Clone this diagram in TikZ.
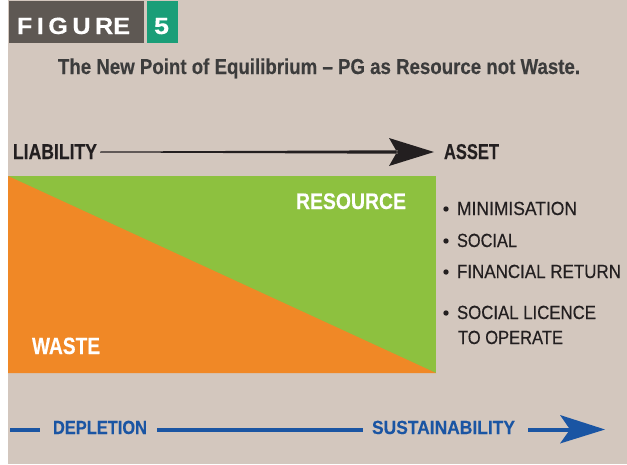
\documentclass[tikz,border=0pt]{standalone}
\usepackage{fontspec}
\usepackage{graphicx}
\setmainfont{Liberation Sans}[BoldFeatures={FakeBold=0.3}]
\setsansfont{Liberation Sans}
\newfontfamily\medfont{Liberation Sans}[FakeBold=0.5]
\newcommand\fitw[2]{\resizebox{#1}{\height}{#2}}
\definecolor{bgbeige}{RGB}{211,199,190}
\definecolor{figdark}{RGB}{94,88,83}
\definecolor{figteal}{RGB}{26,158,120}
\definecolor{resgreen}{RGB}{141,193,63}
\definecolor{wasteorange}{RGB}{240,136,38}
\definecolor{axisblue}{RGB}{26,85,163}
\definecolor{titlegray}{RGB}{60,60,60}
\definecolor{inkblack}{RGB}{35,31,32}
\tikzset{
  txt/.style={inner sep=0pt, outer sep=0pt, anchor=base west},
  bullettxt/.style={txt, text=inkblack, font=\medfont\fontsize{19}{19}\selectfont},
  bluetxt/.style={txt, text=axisblue, font=\bfseries\fontsize{19}{19}\selectfont},
  blueline/.style={draw=axisblue, line width=4pt},
  bulletdot/.style={circle, fill=inkblack, inner sep=0pt, minimum size=5.4pt}
}
\begin{document}
\begin{tikzpicture}[x=1pt,y=-1pt]
\useasboundingbox (0,0) rectangle (627,464);
\fill[white] (0,0) rectangle (627,464);
\fill[bgbeige] (8,0) rectangle (627,464);
% figure label
\fill[figdark] (9,1) rectangle (144,43);
\fill[figteal] (147,1) rectangle (178,43);
\node[txt, text=white, font=\bfseries\fontsize{23.5}{23.5}\selectfont] (fig) at (17,34) {\fitw{113pt}{{\addfontfeatures{LetterSpace=18}FIGUR}E}};
\node[txt, text=white, font=\bfseries\fontsize{23.5}{23.5}\selectfont] (num) at (154,34) {\fitw{15pt}{5}};
% title
\node[txt, text=titlegray, font=\bfseries\fontsize{21.6}{21.6}\selectfont] (title) at (58,74) {\fitw{522pt}{The New Point of Equilibrium -- PG as Resource not Waste.}};
% top axis
\node[txt, text=inkblack, font=\bfseries\fontsize{21.5}{21.5}\selectfont] (liab) at (13,159) {\fitw{84pt}{LIABILITY}};
\node[txt, text=inkblack, font=\bfseries\fontsize{21.5}{21.5}\selectfont] (asset) at (444,159) {\fitw{55pt}{ASSET}};
\coordinate (ts) at (100,152);
\coordinate (tn) at (398,152);
\coordinate (tt) at (434,152);
\fill[inkblack] ([yshift=-0.5pt]ts) -- ([yshift=-1.7pt]tn) -- (389,138) -- (tt) -- (389,166) -- ([yshift=1.7pt]tn) -- ([yshift=0.5pt]ts) -- cycle;
% main block
\fill[resgreen] (8,176) rectangle (436,373);
\fill[wasteorange] (8,176) -- (436,373) -- (8,373) -- cycle;
\node[txt, text=white, font=\bfseries\fontsize{22.5}{22.5}\selectfont] (res) at (296,209) {\fitw{110pt}{RESOURCE}};
\node[txt, text=white, font=\bfseries\fontsize{23.5}{23.5}\selectfont] (waste) at (32,354) {\fitw{68pt}{WASTE}};
% bullets
\node[bulletdot] (d1) at (446,209) {};
\node[bullettxt] (b1) at (457,215) {\fitw{120pt}{MINIMISATION}};
\node[bulletdot] (d2) at (446,241) {};
\node[bullettxt] (b2) at (457,247) {\fitw{60pt}{SOCIAL}};
\node[bulletdot] (d3) at (446,272) {};
\node[bullettxt] (b3) at (457,278) {\fitw{164pt}{FINANCIAL RETURN}};
\node[bulletdot] (d4) at (446,313) {};
\node[bullettxt] (b4) at (457,319) {\fitw{139pt}{SOCIAL LICENCE}};
\node[bullettxt] (b5) at (458,344) {\fitw{105pt}{TO OPERATE}};
% bottom axis
\node[bluetxt] (dep) at (53,434) {\fitw{94pt}{DEPLETION}};
\node[bluetxt] (sus) at (372,434) {\fitw{143pt}{SUSTAINABILITY}};
\coordinate (bs) at (10,429.5);
\coordinate (bn) at (570,429.5);
\draw[blueline] (bs) -- (40,429.5);
\draw[blueline] (157,429.5) -- (363,429.5);
\draw[blueline] (528,429.5) -- (bn);
\fill[axisblue] (bn) -- (560,415) -- (605,429.5) -- (560,443.5) -- cycle;
\end{tikzpicture}
\end{document}
